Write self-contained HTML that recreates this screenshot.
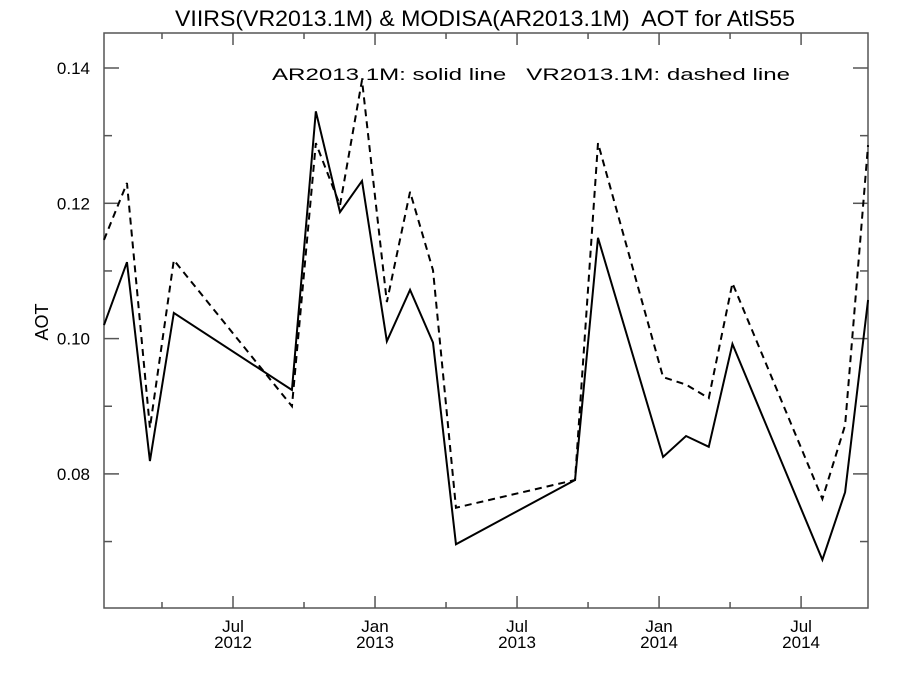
<!DOCTYPE html>
<html><head><meta charset="utf-8"><style>
body{margin:0;background:#fff}
svg{display:block;font-family:"Liberation Sans",sans-serif}
text{white-space:pre}
</style></head><body>
<svg id="c" width="900" height="675">
<text x="175" y="26" font-size="22" textLength="620" lengthAdjust="spacingAndGlyphs" xml:space="preserve">VIIRS(VR2013.1M) &amp; MODISA(AR2013.1M)  AOT for AtlS55</text>
<text x="272" y="80" font-size="17" textLength="518" lengthAdjust="spacingAndGlyphs" xml:space="preserve">AR2013.1M: solid line   VR2013.1M: dashed line</text>
<text transform="translate(48,322) rotate(-90)" font-size="18" text-anchor="middle">AOT</text>
<rect x="104" y="33" width="764" height="575" fill="none" stroke="#555" stroke-width="1.5"/>
<g id="ax"></g><g id="ser"></g>
</svg>
<script>
const months=[0.55,1.52,2.49,3.5,8.49,9.5,10.52,11.45,12.5,13.48,14.45,15.42,20.45,21.42,24.17,25.14,26.1,27.1,30.9,31.86,32.83];
const modisVals=[0.1020,0.1113,0.0819,0.1038,0.0924,0.1336,0.1187,0.1233,0.0996,0.1072,0.0994,0.0696,0.0791,0.1149,0.0825,0.0856,0.0840,0.0992,0.0673,0.0773,0.1057];
const viirsVals=[0.1146,0.1230,0.0868,0.1116,0.0900,0.1289,0.1197,0.1382,0.1054,0.1217,0.1101,0.0750,0.0791,0.1289,0.0943,0.0932,0.0912,0.1082,0.0763,0.0872,0.1286];
const yTicks=[0.08,0.10,0.12,0.14];
const yTickLabels=["0.08","0.10","0.12","0.14"];
const xTicks=[6,12,18,24,30];
const xTickLabels=[["Jul","2012"],["Jan","2013"],["Jul","2013"],["Jan","2014"],["Jul","2014"]];
const xMinor=[3,9,15,21,27];
const X=m=>233+(m-6)*23.67;
const Y=v=>68+(0.14-v)*6765;
const NS="http://www.w3.org/2000/svg";
const ax=document.getElementById('ax'),ser=document.getElementById('ser');
function ln(p,x1,y1,x2,y2,name){const l=document.createElementNS(NS,'line');
l.setAttribute('x1',x1);l.setAttribute('y1',y1);l.setAttribute('x2',x2);l.setAttribute('y2',y2);
l.setAttribute('stroke','#555');l.setAttribute('stroke-width','1.5');


p.appendChild(l);}
function tx(x,y,s,name){const t=document.createElementNS(NS,'text');
t.setAttribute('x',x);t.setAttribute('y',y);t.setAttribute('font-size','17');t.setAttribute('text-anchor','middle');t.textContent=s;


ax.appendChild(t);return t;}
yTicks.forEach((v,i)=>{const y=Y(v);ln(ax,104,y,119,y,'y-tick');ln(ax,853,y,868,y,'y-tick-right');
const t=tx(90,y+6,yTickLabels[i],'y-tick-label');t.setAttribute('text-anchor','end');});
for(let v=0.07;v<0.146;v+=0.02){const y=Y(v);ln(ax,104,y,112,y,'y-minor-tick');ln(ax,860,y,868,y,'y-minor-tick-right');}
xTicks.forEach((m,i)=>{const x=X(m);ln(ax,x,608,x,596,'x-tick');ln(ax,x,33,x,45,'x-tick-top');
tx(x,632,xTickLabels[i][0],'x-tick-month');tx(x,648,xTickLabels[i][1],'x-tick-year');});
xMinor.forEach(m=>{const x=X(m);ln(ax,x,608,x,602,'x-minor-tick');ln(ax,x,33,x,39,'x-minor-tick-top');});
function series(vals,dash,name){const p=document.createElementNS(NS,'polyline');
p.setAttribute('points',months.map((m,i)=>X(m)+','+Y(vals[i])).join(' '));
p.setAttribute('fill','none');p.setAttribute('stroke','#000');p.setAttribute('stroke-width','2');
if(dash)p.setAttribute('stroke-dasharray','7,5');


ser.appendChild(p);}
series(modisVals,false,'modisa-solid-line');
series(viirsVals,true,'viirs-dashed-line');
</script>
</body></html>
